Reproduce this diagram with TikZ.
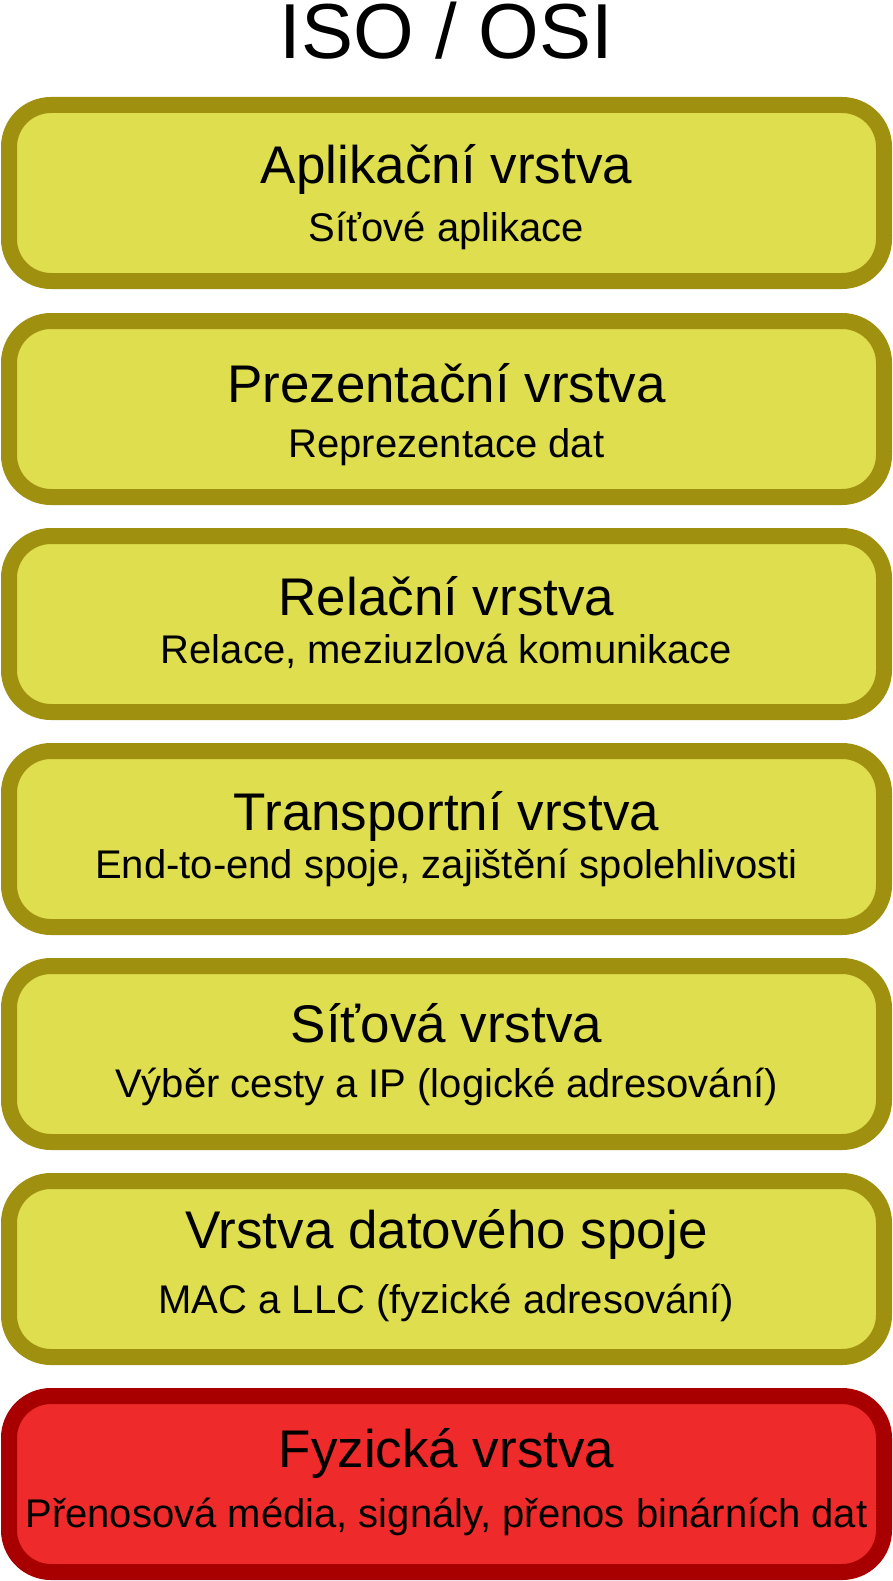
\documentclass[tikz,border=0pt]{standalone}
\usepackage{fontspec}
\setmainfont{Liberation Sans}
\definecolor{yfill}{RGB}{222,222,78}
\definecolor{ydraw}{RGB}{160,144,16}
\definecolor{rfill}{RGB}{238,42,42}
\definecolor{rdraw}{RGB}{168,0,0}
\tikzset{
  layer/.style={draw=ydraw, fill=yfill, line width=16pt, rounded corners=42pt,
    minimum width=875pt, minimum height=176pt, inner sep=0pt, outer sep=0pt},
  layerred/.style={layer, draw=rdraw, fill=rfill},
  ltitle/.style={anchor=base, inner sep=0pt, font=\fontsize{53}{60}\selectfont},
  lsub/.style={anchor=base, inner sep=0pt, font=\fontsize{40}{46}\selectfont},
  mtitle/.style={anchor=base, inner sep=0pt, text height=55pt, text depth=0pt,
    font=\fontsize{78}{84}\selectfont}
}
\begin{document}
\begin{tikzpicture}[x=1pt,y=-1pt]
\useasboundingbox (0,0) rectangle (893,1581);
\node[mtitle] (title) at (446.5,59) {ISO / OSI};
% boxes: tops 97,313,528,743,958,1173,1388 ; centre = top+96
\node[layer] (b1) at (446.5,193) {};
\node[layer] (b2) at (446.5,409) {};
\node[layer] (b3) at (446.5,624) {};
\node[layer] (b4) at (446.5,839) {};
\node[layer] (b5) at (446.5,1054) {};
\node[layer] (b6) at (446.5,1269) {};
\node[layerred] (b7) at (446.5,1484) {};
\node[ltitle] (t1) at (446.5,183) {Aplikační vrstva};
\node[lsub] (s1) at (446.5,241) {Síťové aplikace};
\node[ltitle] (t2) at (446.5,402) {Prezentační vrstva};
\node[lsub] (s2) at (446.5,457) {Reprezentace dat};
\node[ltitle] (t3) at (446.5,615) {Relační vrstva};
\node[lsub] (s3) at (446.5,663) {Relace, meziuzlová komunikace};
\node[ltitle] (t4) at (446.5,830) {Transportní vrstva};
\node[lsub] (s4) at (446.5,878) {End-to-end spoje, zajištění spolehlivosti};
\node[ltitle] (t5) at (446.5,1042) {Síťová vrstva};
\node[lsub] (s5) at (446.5,1097) {Výběr cesty a IP (logické adresování)};
\node[ltitle] (t6) at (446.5,1248) {Vrstva datového spoje};
\node[lsub] (s6) at (446.5,1313) {MAC a LLC (fyzické adresování)};
\node[ltitle] (t7) at (446.5,1467) {Fyzická vrstva};
\node[lsub] (s7) at (446.5,1527) {Přenosová média, signály, přenos binárních dat};
\end{tikzpicture}
\end{document}
